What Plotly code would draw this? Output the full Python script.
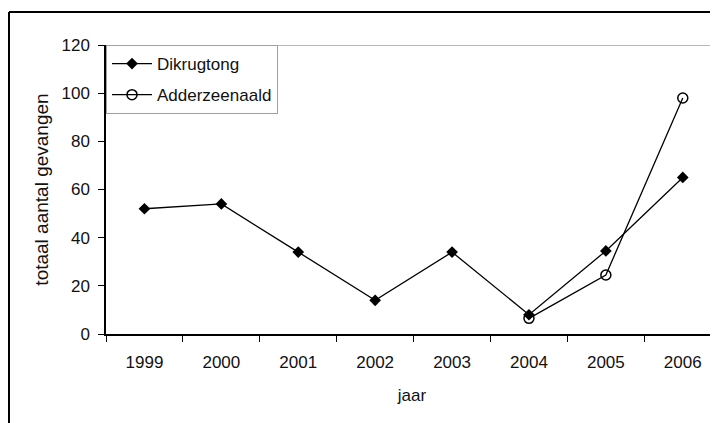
import plotly.graph_objects as go

years = ["1999", "2000", "2001", "2002", "2003", "2004", "2005", "2006"]
dikrugtong = [52, 54, 34, 14, 34, 8, 34.5, 65]
adder_years = ["2004", "2005", "2006"]
adderzeenaald = [6.5, 24.5, 98]
y_ticks = [0, 20, 40, 60, 80, 100, 120]

FONT = "Liberation Sans, Arial, sans-serif"

fig = go.Figure()
fig.add_trace(go.Scatter(
    x=years, y=dikrugtong, name="Dikrugtong", mode="lines+markers", legendgroup="a",
    line=dict(color="black", width=1.3),
    marker=dict(symbol="diamond", size=9, color="black"),
))
fig.add_trace(go.Scatter(
    x=adder_years, y=adderzeenaald, name="Adderzeenaald", mode="lines+markers", legendgroup="b",
    line=dict(color="black", width=1.3),
    marker=dict(symbol="circle-open", size=10, color="black", line=dict(width=1.5)),
))

# top gray gridline at 120
fig.add_shape(type="line", xref="paper", yref="y", x0=0, x1=1.05, y0=120, y1=120,
              line=dict(color="#a0a0a0", width=1.5), layer="below")
# outer chart frame (left and top edges)
fig.add_shape(type="line", xref="paper", yref="paper", x0=-0.1585, x1=1.2, y0=1.114, y1=1.114,
              line=dict(color="black", width=2))
fig.add_shape(type="line", xref="paper", yref="paper", x0=-0.1585, x1=-0.1585, y0=1.114, y1=-0.4,
              line=dict(color="black", width=2))

fig.update_layout(
    width=710, height=415,
    margin=dict(l=98, r=0, t=37, b=89, autoexpand=False),
    paper_bgcolor="white", plot_bgcolor="white",
    font=dict(family=FONT, size=17, color="#111111"),
    showlegend=True,
    legend=dict(x=0, y=1, xanchor="left", yanchor="top",
                bgcolor="white", bordercolor="#a0a0a0", borderwidth=1,
                font=dict(family=FONT, size=17), itemwidth=40, tracegroupgap=6,
                entrywidth=130, entrywidthmode="pixels"),
    xaxis=dict(type="category", categoryorder="array", categoryarray=years,
               range=[-0.5, 7.458], tickson="boundaries", automargin=False,
               ticks="outside", ticklen=6, tickcolor="black", tickwidth=1,
               ticklabelstandoff=12,
               showline=True, linecolor="black", linewidth=1.5,
               showgrid=False, zeroline=False,
               title=dict(text="jaar", standoff=18, font=dict(size=17)),
               tickfont=dict(size=17)),
    yaxis=dict(range=[0, 120], tickvals=y_ticks, automargin=False,
               ticks="outside", ticklen=6, tickcolor="black", tickwidth=1,
               ticklabelstandoff=5,
               showline=True, linecolor="black", linewidth=1.5,
               showgrid=False, zeroline=False,
               title=dict(text="totaal aantal gevangen", standoff=8, font=dict(size=19)),
               tickfont=dict(size=17)),
)

fig.write_html("out.html")
